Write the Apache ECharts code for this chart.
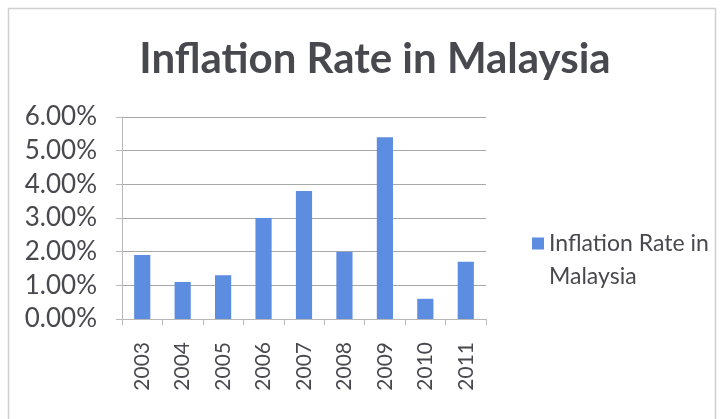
<!DOCTYPE html>
<html>
<head>
<meta charset="utf-8">
<script src="https://cdn.jsdelivr.net/npm/echarts@6/dist/echarts.min.js"></script>
<style>
  html, body { margin: 0; padding: 0; background: #ffffff; }
  #chart { width: 723px; height: 419px; }
</style>
</head>
<body>
<div id="chart"></div>
<script>
// Annual inflation rate, percent
const years = ['2003', '2004', '2005', '2006', '2007', '2008', '2009', '2010', '2011'];
const inflation = [1.9, 1.1, 1.3, 3.0, 3.8, 2.0, 5.4, 0.6, 1.7];
const seriesName = 'Inflation Rate in Malaysia';

const font = 'Lato, "Open Sans", sans-serif';
const textColor = '#48484f';

const chart = echarts.init(document.getElementById('chart'), null, { renderer: 'canvas' });
chart.setOption({
  backgroundColor: '#ffffff',
  animation: false,
  graphic: [{
    type: 'rect',
    shape: { x: 8.5, y: 8.5, width: 707, height: 420 },
    style: { fill: 'none', stroke: '#d0d0d0', lineWidth: 1.5 },
    silent: true
  }],
  title: {
    text: 'Inflation Rate in Malaysia',
    left: 370,
    textAlign: 'center',
    top: 33,
    textStyle: { fontFamily: font, fontWeight: 'bold', fontSize: 42, color: textColor }
  },
  legend: {
    orient: 'vertical',
    left: 527,
    top: 189,
    itemWidth: 12,
    itemHeight: 12,
    itemGap: 8,
    icon: 'rect',
    // an empty first line keeps the marker level with "Inflation Rate in"
    formatter: () => ' \nInflation Rate in\nMalaysia',
    textStyle: { fontFamily: font, fontSize: 23, color: textColor, lineHeight: 33 }
  },
  grid: { left: 122, top: 117, right: 237, bottom: 100, containLabel: false },
  xAxis: {
    type: 'category',
    data: years,
    axisLine: { show: true, lineStyle: { color: '#b8b8b8', width: 1 } },
    axisTick: { show: true, length: 6, alignWithLabel: false, lineStyle: { color: '#b8b8b8' } },
    axisLabel: { rotate: 90, margin: 23, fontFamily: font, fontSize: 21, color: textColor }
  },
  yAxis: {
    type: 'value',
    min: 0,
    max: 6,
    interval: 1,
    axisLine: { show: true, lineStyle: { color: '#b8b8b8', width: 1 } },
    axisTick: { show: true, length: 6, inside: false, lineStyle: { color: '#b8b8b8' } },
    splitLine: { show: true, lineStyle: { color: '#a8a8a8', width: 1 } },
    axisLabel: {
      margin: 25,
      fontFamily: font,
      fontSize: 26,
      color: textColor,
      formatter: v => v.toFixed(2) + '%'
    }
  },
  series: [{
    name: seriesName,
    type: 'bar',
    data: inflation,
    barWidth: '40%',
    itemStyle: { color: '#5d8de0' }
  }]
});
</script>
</body>
</html>
